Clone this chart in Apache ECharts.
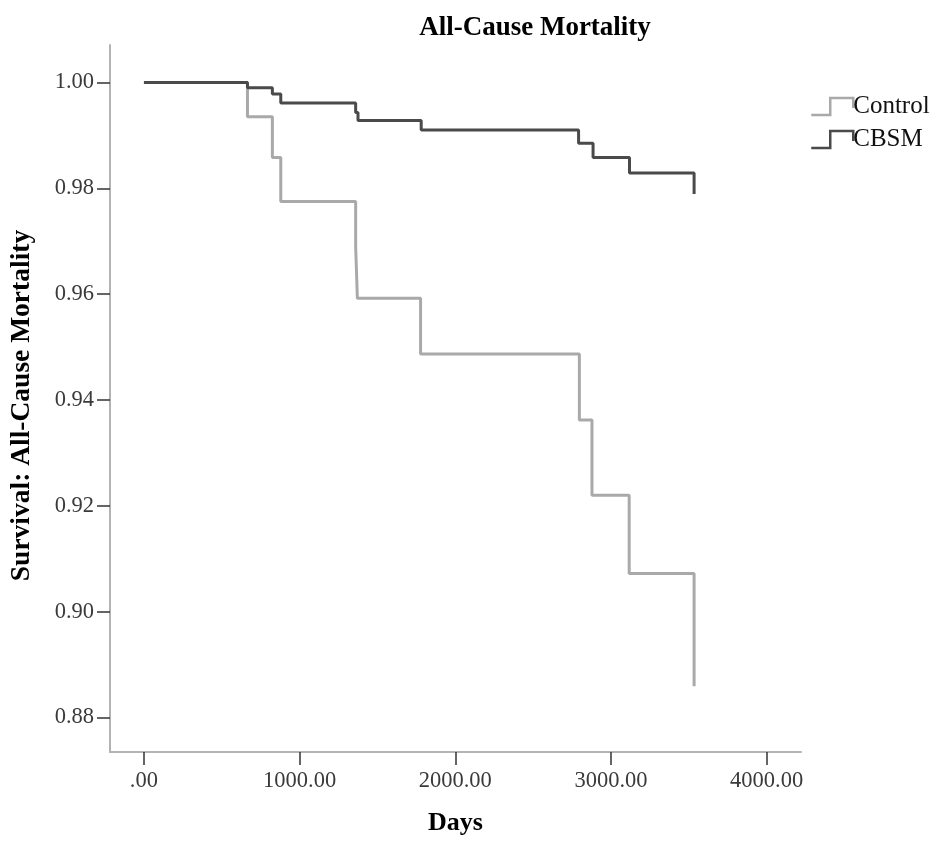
<!DOCTYPE html>
<html>
<head>
<meta charset="utf-8">
<script src="https://cdn.jsdelivr.net/npm/echarts@6/dist/echarts.min.js"></script>
<style>
html,body{margin:0;padding:0;background:#fff;}
#chart{width:941px;height:841px;}
</style>
</head>
<body>
<div id="chart"></div>
<script>
// Kaplan-Meier steps: [days, survival]
var controlDays = [0, 665, 825, 879, 1360, 1371, 1777, 2797, 2878, 3117, 3534];
var controlSurv = [1.000, 0.9935, 0.9858, 0.9775, 0.9690, 0.9592, 0.9487, 0.9362, 0.9220, 0.9072, 0.8859];
var cbsmDays = [0, 665, 825, 879, 1360, 1375, 1781, 2792, 2885, 3119, 3534];
var cbsmSurv = [1.000, 0.9990, 0.9978, 0.9961, 0.9943, 0.9928, 0.9910, 0.9885, 0.9858, 0.9829, 0.9789];
var xTicks = [0, 1000, 2000, 3000, 4000];
var yTicks = [0.88, 0.90, 0.92, 0.94, 0.96, 0.98, 1.00];

function pairs(xs, ys) { return xs.map(function (x, i) { return [x, ys[i]]; }); }

var serif = '"Liberation Serif", "DejaVu Serif", serif';
var chart = echarts.init(document.getElementById('chart'), null, {renderer: 'canvas'});
chart.setOption({
  animation: false,
  backgroundColor: '#ffffff',
  title: {
    text: 'All-Cause Mortality',
    left: 530, top: 10, textAlign: 'center',
    textStyle: {fontFamily: serif, fontSize: 27, fontWeight: 'bold', color: '#000'}
  },
  legend: {
    orient: 'vertical', left: 805, top: 89,
    itemWidth: 42, itemHeight: 17, itemGap: 8,
    textStyle: {fontFamily: serif, fontSize: 25, color: '#111', padding: [0, 0, 0, -5]},
    data: [
      {name: 'Control', icon: 'path://M0,17 L19,17 L19,0 L42,0 L42,10',
        itemStyle: {color: 'transparent', borderColor: '#a9a9a9', borderWidth: 2.5}},
      {name: 'CBSM', icon: 'path://M0,17 L19,17 L19,0 L42,0 L42,10',
        itemStyle: {color: 'transparent', borderColor: '#4a4a4a', borderWidth: 2.5}}
    ]
  },
  grid: {left: 109, right: 140, top: 45, bottom: 84, containLabel: false},
  xAxis: {
    type: 'value', min: -218, max: 4220.7,
    name: 'Days', nameLocation: 'middle', nameGap: 58,
    nameTextStyle: {fontFamily: serif, fontSize: 26, fontWeight: 'bold', color: '#000'},
    axisLine: {show: true, onZero: false, lineStyle: {color: '#b3b3b3', width: 2}},
    axisTick: {show: true, customValues: xTicks, length: 13, lineStyle: {color: '#333', width: 1.5}},
    axisLabel: {customValues: xTicks, margin: 18, fontFamily: serif, fontSize: 22.5, color: '#3a3a3a',
      formatter: function (v) { return v === 0 ? '.00' : v.toFixed(2); }},
    splitLine: {show: false}
  },
  yAxis: {
    type: 'value', min: 0.87349, max: 1.00707,
    name: 'Survival: All-Cause Mortality', nameLocation: 'middle', nameRotate: 90, nameGap: 74,
    nameTextStyle: {fontFamily: serif, fontSize: 27.5, fontWeight: 'bold', color: '#000', padding: [0, 14, 0, 0]},
    axisLine: {show: true, onZero: false, lineStyle: {color: '#b3b3b3', width: 2}},
    axisTick: {show: true, customValues: yTicks, length: 13, lineStyle: {color: '#333', width: 1.5}},
    axisLabel: {customValues: yTicks, margin: 16, fontFamily: serif, fontSize: 22.5, color: '#3a3a3a',
      formatter: function (v) { return v.toFixed(2); }},
    splitLine: {show: false}
  },
  series: [
    {name: 'Control', type: 'line', step: 'end', showSymbol: false, symbol: 'none',
      data: pairs(controlDays, controlSurv),
      lineStyle: {color: '#a9a9a9', width: 3}, itemStyle: {color: '#a9a9a9'}, z: 2},
    {name: 'CBSM', type: 'line', step: 'end', showSymbol: false, symbol: 'none',
      data: pairs(cbsmDays, cbsmSurv),
      lineStyle: {color: '#4a4a4a', width: 3}, itemStyle: {color: '#4a4a4a'}, z: 3}
  ]
});
</script>
</body>
</html>
